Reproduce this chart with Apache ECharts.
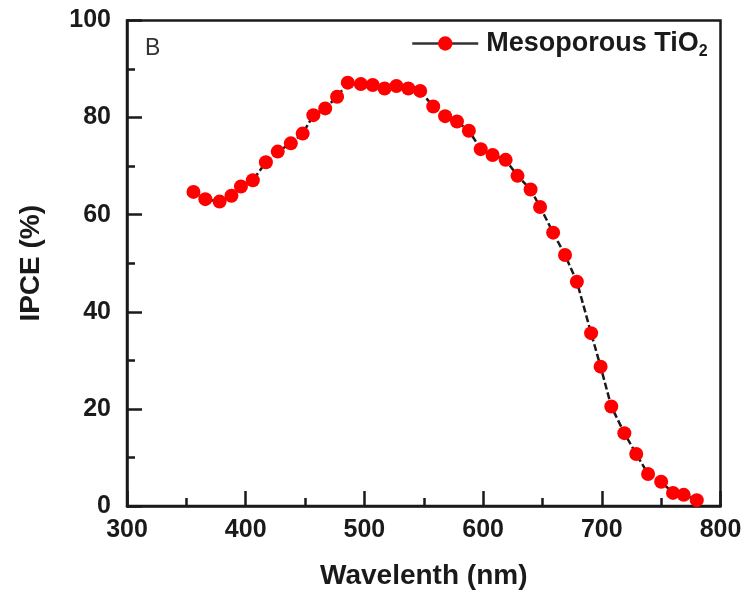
<!DOCTYPE html>
<html>
<head>
<meta charset="utf-8">
<title>IPCE spectrum</title>
<script src="https://cdn.jsdelivr.net/npm/echarts@6/dist/echarts.min.js"></script>
<style>
  html, body { margin: 0; padding: 0; background: #fff; }
  #chart { width: 745px; height: 591px; }
</style>
</head>
<body>
<div id="chart"></div>
<script>
// Wavelength (nm) of each measurement
const wavelengths = [356, 366, 378, 388, 396, 406, 417, 427, 438, 448,
  457, 467, 477, 486, 497, 507, 517, 527, 537, 547,
  558, 568, 578, 588, 598, 608, 619, 629, 640, 648,
  659, 669, 679, 691, 699, 708, 719, 729, 739, 750,
  760, 769, 780];
// IPCE (%) at each wavelength
const ipce = [64.7, 63.2, 62.7, 63.9, 65.8, 67.1, 70.8, 73.0, 74.7, 76.7,
  80.5, 81.9, 84.3, 87.2, 86.9, 86.7, 86.0, 86.5, 86.0, 85.5,
  82.3, 80.3, 79.2, 77.3, 73.5, 72.3, 71.3, 68.0, 65.2, 61.6,
  56.3, 51.7, 46.2, 35.6, 28.7, 20.5, 15.0, 10.7, 6.6, 5.0,
  2.7, 2.3, 1.2];
const xTicks = [300, 400, 500, 600, 700, 800];
const yTicks = [0, 20, 40, 60, 80, 100];

const FONT = '"Liberation Sans", Arial, sans-serif';
const INK = '#1a1a1a';

const chart = echarts.init(document.getElementById('chart'), null, { renderer: 'canvas' });

const axisCommon = {
  type: 'value',
  axisLine: { show: true, lineStyle: { color: INK, width: 2.5 } },
  axisTick: { show: true, inside: true, length: 15, lineStyle: { color: INK, width: 2.5 } },
  minorTick: { show: true, splitNumber: 2, length: 8, lineStyle: { color: INK, width: 2.5 } },
  splitLine: { show: false },
  nameTextStyle: { fontFamily: FONT, fontWeight: 'bold', fontSize: 28, color: INK },
  axisLabel: { fontFamily: FONT, fontWeight: 'bold', fontSize: 25, color: INK }
};

chart.setOption({
  animation: false,
  backgroundColor: '#fff',
  grid: {
    left: 127, right: 24.5, top: 20.5, bottom: 85,
    containLabel: false, outerBoundsMode: 'none',
    show: true, borderColor: INK, borderWidth: 2.5, backgroundColor: 'transparent'
  },
  xAxis: Object.assign({}, axisCommon, {
    min: xTicks[0], max: xTicks[xTicks.length - 1], interval: xTicks[1] - xTicks[0],
    name: 'Wavelenth (nm)', nameLocation: 'middle', nameGap: 56,
    axisLabel: Object.assign({}, axisCommon.axisLabel, { margin: 12 })
  }),
  yAxis: Object.assign({}, axisCommon, {
    min: yTicks[0], max: yTicks[yTicks.length - 1], interval: yTicks[1] - yTicks[0],
    name: 'IPCE (%)', nameLocation: 'middle', nameGap: 82,
    axisLabel: Object.assign({}, axisCommon.axisLabel, { margin: 16 })
  }),
  legend: {
    left: 411, top: 30, padding: 0,
    itemWidth: 66, itemHeight: 18, itemGap: 10,
    lineStyle: { type: 'solid', color: '#333', width: 2.5 },
    itemStyle: { color: '#ff0000', borderWidth: 0 },
    formatter: () => 'Mesoporous TiO{sub|2}',
    textStyle: {
      fontFamily: FONT, fontWeight: 'bold', fontSize: 27, color: INK,
      padding: [0, 0, 0, 3],
      rich: {
        sub: { fontFamily: FONT, fontWeight: 'bold', fontSize: 16, color: INK, padding: [17, 0, 0, 0] }
      }
    }
  },
  graphic: [{
    type: 'text', left: 145, top: 37,
    style: { text: 'B', fontFamily: FONT, fontSize: 23, fill: '#333' }
  }],
  series: [{
    name: 'Mesoporous TiO2',
    type: 'line',
    data: wavelengths.map((w, i) => [w, ipce[i]]),
    symbol: 'circle',
    symbolSize: 14,
    showSymbol: true,
    itemStyle: { color: '#ff0000', borderWidth: 0 },
    lineStyle: { color: INK, width: 2.5, type: [7, 3] },
    z: 3
  }]
});
</script>
</body>
</html>
